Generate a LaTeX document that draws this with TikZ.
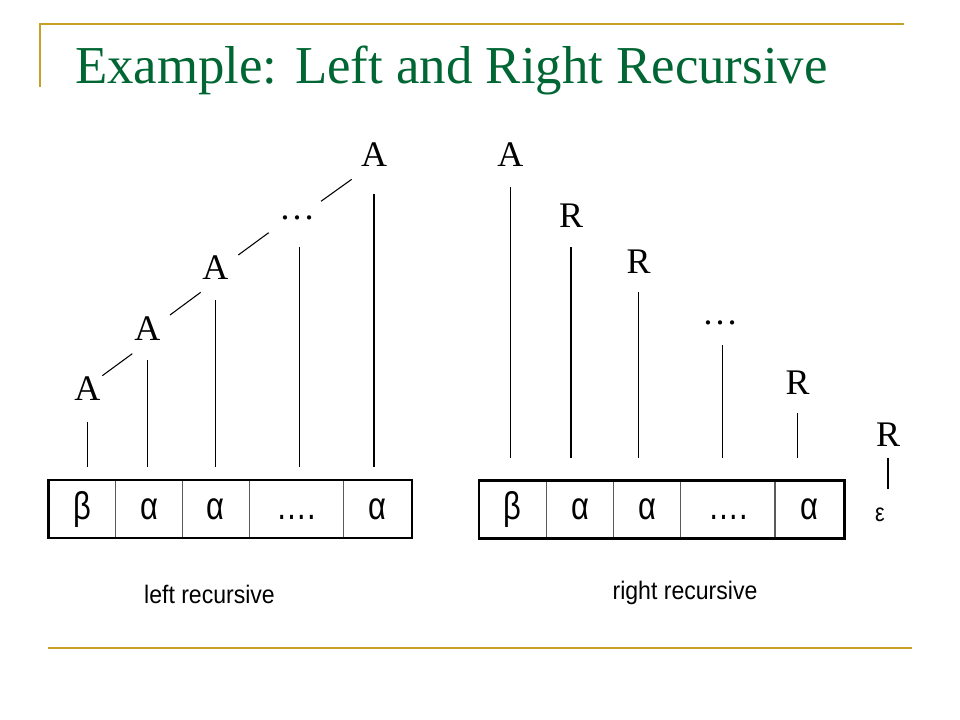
\documentclass[tikz,border=0pt]{standalone}
\usepackage{fontspec}
\usepackage{graphicx}
\setmainfont{Liberation Serif}
\setsansfont{Liberation Sans}
\usetikzlibrary{calc}
\definecolor{gold}{RGB}{198,160,40}
\definecolor{titlegreen}{RGB}{0,102,51}
\definecolor{divgray}{RGB}{90,90,90}
\tikzset{
  tree/.style={font=\fontsize{27}{30}\selectfont\rmfamily, inner sep=0pt, anchor=base},
  edge/.style={line width=0.8pt, black},
  cell/.style={draw=divgray, line width=0.8pt, rectangle, minimum height=43.5pt, inner sep=0pt, outer sep=0pt,
    font=\fontsize{29}{32}\selectfont\sffamily},
  outerbox/.style={draw=black, line width=1.8pt},
  goldline/.style={draw=gold, line width=1.7pt},
  caption/.style={font=\fontsize{19}{22}\selectfont\sffamily, inner sep=0pt, anchor=base},
}
\newcommand{\celltext}[1]{\scalebox{0.8}[1]{#1}\vphantom{β}}
\begin{document}
\begin{tikzpicture}[x=0.75pt,y=-0.75pt]
\useasboundingbox (0,0) rectangle (960,720);
\fill[white] (0,0) rectangle (960,720);
% decorative gold lines
\coordinate (tl) at (40,23.8);
\coordinate (tr) at (904,23.8);
\coordinate (tv) at (40,87.5);
\coordinate (bl) at (48,648);
\coordinate (br) at (911.7,648);
\draw[goldline] (tv) -- (tl) -- (tr);
\draw[goldline] (bl) -- (br);
% title
\node[anchor=base west, inner sep=0pt, text=titlegreen, font=\fontsize{40}{44}\selectfont\rmfamily] (title) at (75,84) {\scalebox{0.99}[1]{Example: Left and Right Recursive}};

% left tree
\node[tree] (a1) at (87.4,400.7) {A};
\node[tree] (a2) at (147.3,340.7) {A};
\node[tree] (a3) at (215.3,280) {A};
\node[tree] (ld) at (297,220) {…};
\node[tree] (a4) at (374,166.7) {A};
\coordinate (lbot) at (0,466.7);
\coordinate (ldx) at ($(ld.base)+(2.3,0)$);
\draw[edge] ($(a1.base)+(0,21)$) -- (a1.base |- lbot);
\draw[edge] ($(a2.base)+(0,19.3)$) -- (a2.base |- lbot);
\draw[edge] ($(a3.base)+(0,20)$) -- (a3.base |- lbot);
\draw[edge] ($(ldx)+(0,26.7)$) -- (ldx |- lbot);
\draw[edge] ($(a4.base)+(0,27.6)$) -- (a4.base |- lbot);
\draw[edge] ($(a1.base)+(14.9,-25)$) -- ($(a2.base)+(-15,13)$);
\draw[edge] ($(a2.base)+(22.7,-25.7)$) -- ($(a3.base)+(-14.6,12.3)$);
\draw[edge] ($(a3.base)+(23,-25)$) -- ($(ld.base)+(-28.3,12.7)$);
\draw[edge] ($(ld.base)+(24,-18.7)$) -- ($(a4.base)+(-22.3,12.6)$);

% right tree
\node[tree] (ra) at (510.3,166.7) {A};
\node[tree] (r1) at (571,227.3) {R};
\node[tree] (r2) at (638.5,273.3) {R};
\node[tree] (rd) at (720,325) {…};
\node[tree] (r3) at (797.5,394) {R};
\node[tree] (r4) at (888,446) {R};
\coordinate (rbot) at (0,458.3);
\coordinate (rdx) at ($(rd.base)+(2.3,0)$);
\draw[edge] ($(ra.base)+(0,20)$) -- (ra.base |- rbot);
\draw[edge] ($(r1.base)+(0,20)$) -- (r1.base |- rbot);
\draw[edge] ($(r2.base)+(0,19)$) -- (r2.base |- rbot);
\draw[edge] ($(rdx)+(0,20)$) -- (rdx |- rbot);
\draw[edge] ($(r3.base)+(0,19.3)$) -- (r3.base |- rbot);
\node[inner sep=0pt, anchor=base, font=\fontsize{19}{21}\selectfont\sffamily] (eps) at (880,521.7) {\scalebox{0.85}[1]{ε}};
\draw[edge] ($(r4.base)+(0,12.3)$) -- ($(r4.base)+(0,43.3)$);

% left box
\node[cell, minimum width=50.6pt, anchor=west] (l1) at (48.3,509) {\celltext{β}};
\node[cell, minimum width=50pt, anchor=west] (l2) at (l1.east) {\celltext{α}};
\node[cell, minimum width=50pt, anchor=west] (l3) at (l2.east) {\celltext{α}};
\node[cell, minimum width=70.9pt, anchor=west] (l4) at (l3.east) {\celltext{….}};
\node[cell, minimum width=51.2pt, anchor=west] (l5) at (l4.east) {\celltext{α}};
\draw[outerbox] (l1.north west) rectangle (l5.south east);

% right box
\node[cell, minimum width=50.8pt, anchor=west] (q1) at (479,509.5) {\celltext{β}};
\node[cell, minimum width=50pt, anchor=west] (q2) at (q1.east) {\celltext{α}};
\node[cell, minimum width=50.5pt, anchor=west] (q3) at (q2.east) {\celltext{α}};
\node[cell, minimum width=70.7pt, anchor=west] (q4) at (q3.east) {\celltext{….}};
\node[cell, minimum width=52pt, anchor=west] (q5) at (q4.east) {\celltext{α}};
\draw[outerbox] (q1.north west) rectangle (q5.south east);

% captions
\node[caption] (lcap) at (209.5,603.3) {\scalebox{0.91}[1]{left recursive}};
\node[caption] (rcap) at (685,599.3) {\scalebox{0.91}[1]{right recursive}};
\end{tikzpicture}
\end{document}
